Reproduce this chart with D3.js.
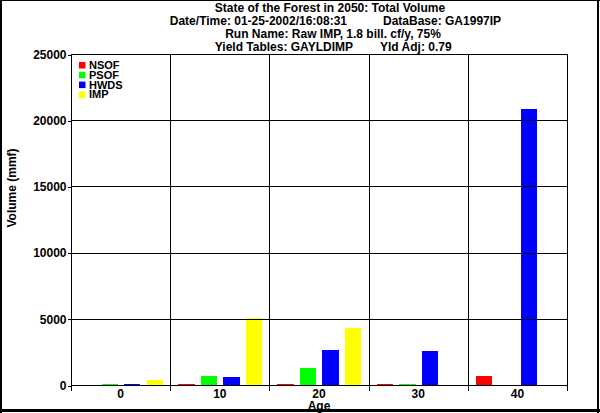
<!DOCTYPE html>
<html><head><meta charset="utf-8">
<script src="https://cdn.jsdelivr.net/npm/d3@7"></script>
<style>
html,body{margin:0;padding:0;background:#fff;}
svg{display:block;}
text{font-family:"Liberation Sans",Arial,sans-serif;font-weight:bold;fill:#000;}
</style></head>
<body>
<svg id="chart" width="600" height="413"></svg>
<script>
const ages = ["0","10","20","30","40"];
const seriesNames = ["NSOF","PSOF","HWDS","IMP"];
const seriesColors = ["#ff0000","#00ff00","#0000ff","#ffff00"];
const NSOF = [0, 60, 60, 60, 680];
const PSOF = [75, 680, 1280, 60, 0];
const HWDS = [75, 600, 2640, 2570, 20850];
const IMP  = [380, 5080, 4300, 0, 0];
const yTicks = [0, 5000, 10000, 15000, 20000, 25000];
const titleLines = [
  "State of the Forest in 2050: Total Volume",
  "Run Name: Raw IMP, 1.8 bill. cf/y, 75%"
];
const line2 = ["Date/Time: 01-25-2002/16:08:31", "DataBase: GA1997IP"];
const line4 = ["Yield Tables: GAYLDIMP", "Yld Adj: 0.79"];
const yLabel = "Volume (mmf)";
const xLabel = "Age";

const seriesValues = [NSOF, PSOF, HWDS, IMP];
const svg = d3.select("#chart");

const L = 71, R = 567, T = 54, B = 385;
const x0 = d3.scaleBand().domain(ages).range([L, R]).padding(0);
const x1 = d3.scaleBand().domain(seriesNames).range([8, 92]).paddingInner(0.27).paddingOuter(0);
const y = d3.scaleLinear().domain([0, 25000]).range([B, T]);

// frame
const fr = svg.append("g").attr("stroke", "#000");
fr.append("line").attr("x1",1).attr("x2",1).attr("y1",0).attr("y2",413).attr("stroke-width",2);
fr.append("line").attr("x1",0).attr("x2",600).attr("y1",0.5).attr("y2",0.5).attr("stroke-width",1);
fr.append("line").attr("x1",598).attr("x2",598).attr("y1",0).attr("y2",413).attr("stroke-width",2);
fr.append("line").attr("x1",0).attr("x2",600).attr("y1",410.5).attr("y2",410.5).attr("stroke-width",3);

// titles
svg.append("text").attr("x",330).attr("y",12).attr("text-anchor","middle").attr("font-size",12).text(titleLines[0]);
svg.append("text").attr("x",347).attr("y",24.5).attr("text-anchor","end").attr("font-size",12).text(line2[0]);
svg.append("text").attr("x",383).attr("y",24.5).attr("text-anchor","start").attr("font-size",12).text(line2[1]);
svg.append("text").attr("x",333).attr("y",37.5).attr("text-anchor","middle").attr("font-size",12).text(titleLines[1]);
svg.append("text").attr("x",353).attr("y",51).attr("text-anchor","end").attr("font-size",12).text(line4[0]);
svg.append("text").attr("x",380).attr("y",51).attr("text-anchor","start").attr("font-size",12).text(line4[1]);

// gridlines
const grid = svg.append("g").attr("stroke","#000").attr("stroke-width",1).attr("shape-rendering","crispEdges");
yTicks.forEach(v => {
  grid.append("line").attr("x1",L).attr("x2",R).attr("y1",Math.round(y(v))+0.5).attr("y2",Math.round(y(v))+0.5);
});
const bounds = ages.map(a => x0(a)).concat([R]);
bounds.forEach(bx => {
  grid.append("line").attr("x1",Math.round(bx)+0.5).attr("x2",Math.round(bx)+0.5).attr("y1",T).attr("y2",391);
});

// bars
const groups = svg.append("g").selectAll("g").data(ages).join("g")
  .attr("transform", d => `translate(${x0(d)},0)`);
groups.selectAll("rect")
  .data((d,i) => seriesNames.map((s,j) => ({s, j, v: seriesValues[j][i]})))
  .join("rect")
  .attr("x", d => x1(d.s))
  .attr("width", x1.bandwidth())
  .attr("y", d => y(d.v))
  .attr("height", d => Math.max(0, B - y(d.v)))
  .attr("fill", d => seriesColors[d.j])
  .attr("shape-rendering","crispEdges");

grid.raise();

// y axis labels
const yAxis = d3.axisLeft(y).tickValues(yTicks).tickSize(4).tickPadding(1).tickFormat(d3.format("d"));
const ya = svg.append("g").attr("transform",`translate(${L+0.5},0.5)`).call(yAxis);
ya.select(".domain").remove();
ya.selectAll("line").attr("stroke","#000").attr("shape-rendering","crispEdges");
ya.selectAll("text").attr("font-size",12).attr("font-family","Liberation Sans, Arial, sans-serif").attr("font-weight","bold").attr("fill","#000");

// x axis labels
const xAxis = d3.axisBottom(x0).tickSize(0).tickPadding(4.5);
const xa = svg.append("g").attr("transform",`translate(0,${B})`).call(xAxis);
xa.select(".domain").remove();
xa.selectAll("text").attr("font-size",12).attr("font-family","Liberation Sans, Arial, sans-serif").attr("font-weight","bold").attr("fill","#000");

// axis titles
svg.append("text").attr("x",(L+R)/2).attr("y",409.5).attr("text-anchor","middle").attr("font-size",12).text(xLabel);
svg.append("text").attr("transform","translate(16,188) rotate(-90)").attr("text-anchor","middle").attr("font-size",12).text(yLabel);

// legend
const lg = svg.append("g");
seriesNames.forEach((s,i) => {
  lg.append("rect").attr("x",79).attr("y",62 + i*9.8).attr("width",6.5).attr("height",6.5).attr("fill",seriesColors[i]);
  lg.append("text").attr("x",89).attr("y",69 + i*9.8).attr("font-size",11).text(s);
});
</script>
</body></html>
